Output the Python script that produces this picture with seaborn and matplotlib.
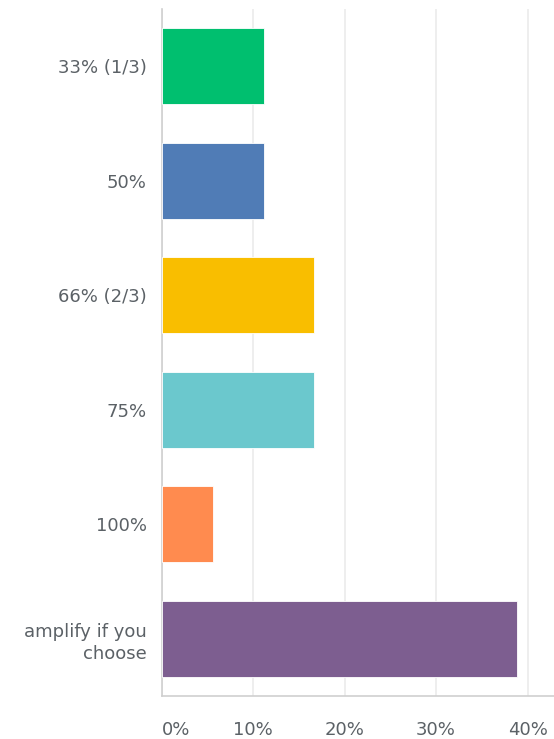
import pandas as pd
import seaborn as sns
import matplotlib.pyplot as plt
from matplotlib.ticker import PercentFormatter

# Survey answers (share of responses)
answers = ["33% (1/3)", "50%", "66% (2/3)", "75%", "100%", "amplify if you\nchoose"]
shares = [11.11, 11.11, 16.67, 16.67, 5.56, 38.89]
colors = ["#00BF6F", "#507CB6", "#F9BE00", "#6BC8CD", "#FF8B4F", "#7D5E90"]
x_ticks = [0, 10, 20, 30, 40]

df = pd.DataFrame({"answer": answers, "share": shares})

sns.set_theme(style="white")
plt.rcParams["font.family"] = ["DejaVu Sans"]

fig = plt.figure(figsize=(5.54, 7.39), dpi=100)
ax = fig.add_axes([0.2924, 0.0582, 0.7076, 0.9296])

sns.barplot(data=df, y="answer", x="share", hue="answer", palette=colors,
            saturation=1, width=0.66, legend=False, ax=ax,
            edgecolor="white", linewidth=0.6, zorder=3)

ax.set_xlim(0, 42.9)
ax.set_xticks(x_ticks)
ax.xaxis.set_major_formatter(PercentFormatter(decimals=0))
ax.grid(axis="x", color="#ebebeb", linewidth=1.2, zorder=0)
ax.set_xlabel("")
ax.set_ylabel("")

for side in ["top", "right"]:
    ax.spines[side].set_visible(False)
for side in ["left", "bottom"]:
    ax.spines[side].set_color("#cfcfcf")
    ax.spines[side].set_linewidth(1.2)

ax.tick_params(axis="y", length=0, pad=11, labelsize=13, labelcolor="#5b6166")
ax.tick_params(axis="x", length=0, pad=18, labelsize=13, labelcolor="#5b6166")
for lab in ax.get_yticklabels():
    lab.set_linespacing(1.3)
ax.get_xticklabels()[0].set_horizontalalignment("left")

fig.savefig("out.png", dpi=100)
